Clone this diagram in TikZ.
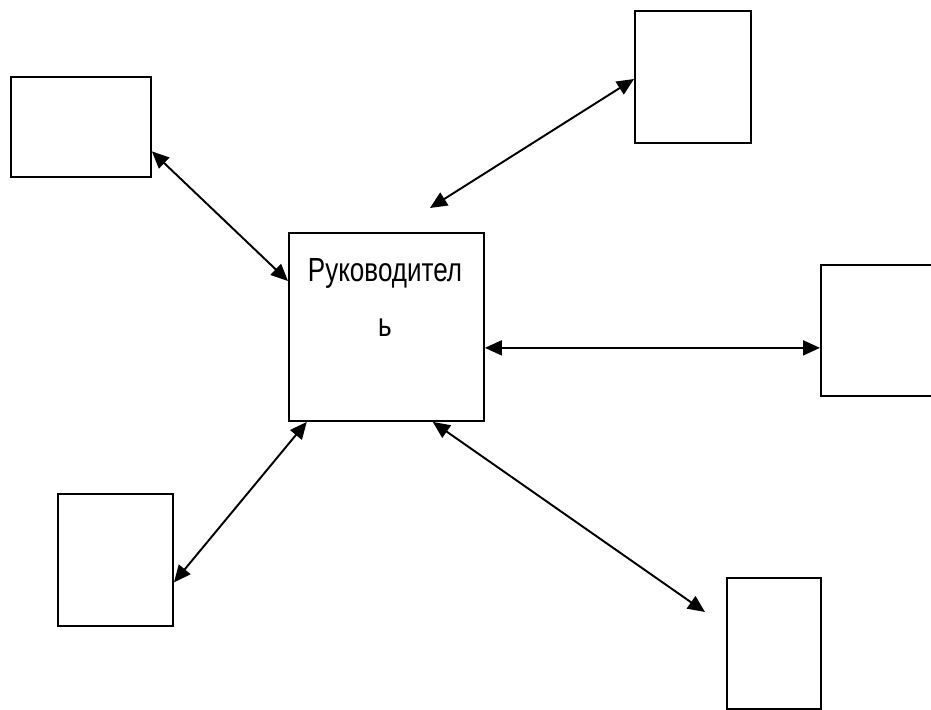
\documentclass[tikz,border=0pt]{standalone}
\usepackage{fontspec}
\usepackage{tikz}
\usetikzlibrary{arrows.meta}
\newfontfamily\bossfont[FakeStretch=0.78]{Liberation Sans}

\begin{document}
\begin{tikzpicture}[x=0.02cm, y=-0.02cm,
% common options for the boxes:
box/.style = {draw, line width=1.1pt, rectangle, anchor=north west, inner sep=0},
% common options for the connectors:
link/.style = {{Triangle[length=0.34cm,width=0.3cm]}-{Triangle[length=0.34cm,width=0.3cm]}, line width=1.1pt}]
\useasboundingbox (0,0) rectangle (931,710);
\node[box, minimum width=2.8cm, minimum height=2.0cm] (tl) at (10,76) {};
\node[box, minimum width=2.32cm, minimum height=2.64cm] (tr) at (634,10) {};
\node[box, minimum width=3.9cm, minimum height=3.76cm] (boss) at (288,232) {};
\node[box, minimum width=2.6cm, minimum height=2.62cm] (rt) at (820,264) {};
\node[box, minimum width=2.3cm, minimum height=2.64cm] (bl) at (57,493) {};
\node[box, minimum width=1.88cm, minimum height=2.62cm] (br) at (726,577) {};
\node[anchor=north, inner sep=0, align=center, font=\bossfont\fontsize{19}{23}\selectfont] (bosstext) at (385,258) {Руководител\\[0.3cm]ь};
\coordinate (trfree) at (430,208);
\coordinate (brfree) at (705,612);
\draw[link] (tl.-19) to (boss.155);
\draw[link] (trfree) to (tr.182);
\draw[link] (boss.-12) to (boss.-12 -| rt.west);
\draw[link] (boss.-130) to (bl.-21);
\draw[link] (boss.-64) to (brfree);
\end{tikzpicture}
\end{document}
